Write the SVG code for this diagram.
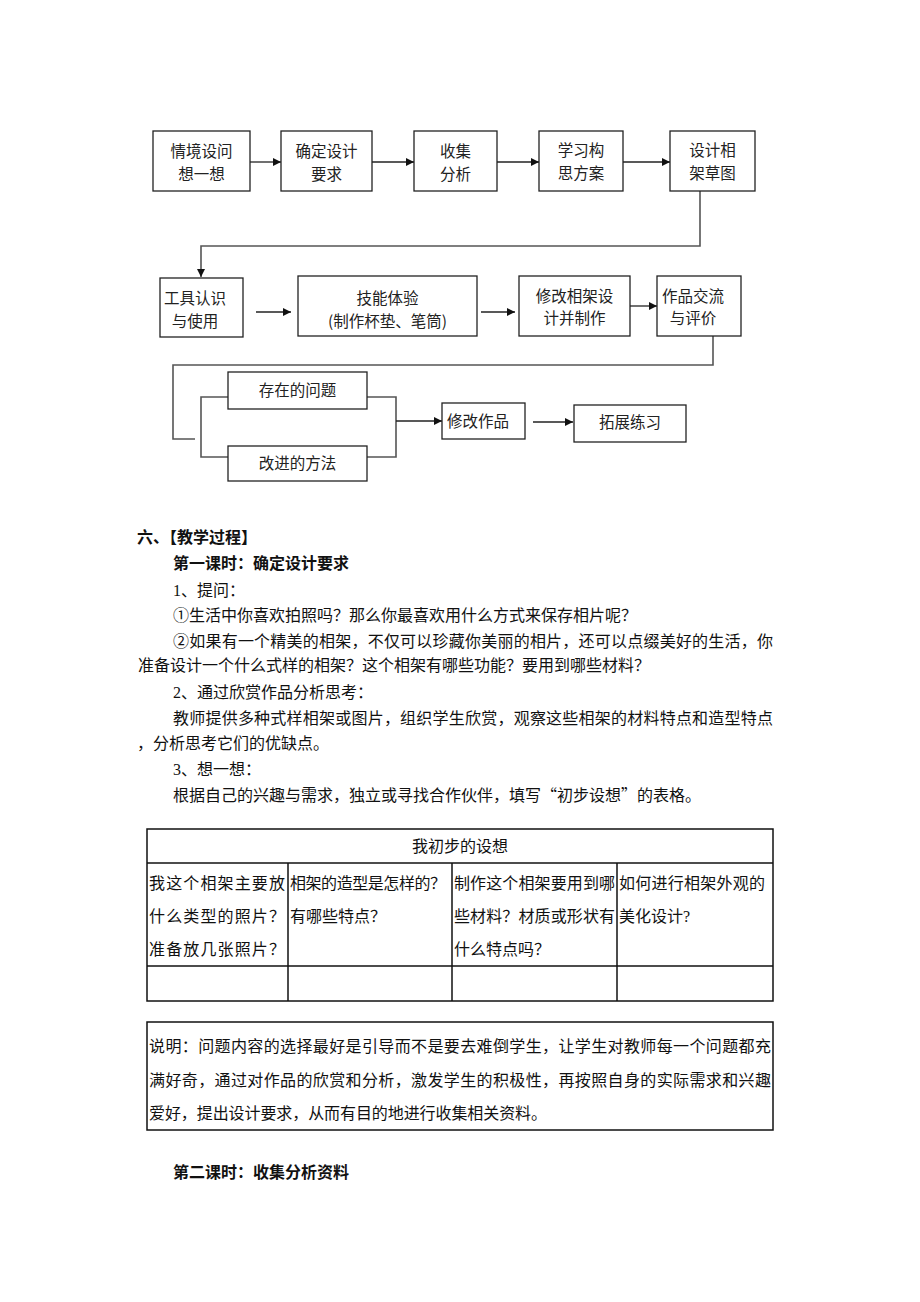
<svg xmlns="http://www.w3.org/2000/svg" width="920" height="1302" viewBox="0 0 920 1302">
<style>
.bg{fill:#ffffff}
.box{fill:#ffffff;stroke:#222;stroke-width:1.3}
.lbl{font-family:"Noto Sans CJK SC","Liberation Sans",sans-serif;font-size:15.5px;fill:#222;text-anchor:middle}
.lbll{font-family:"Noto Sans CJK SC","Liberation Sans",sans-serif;font-size:15.5px;fill:#222}
.con{fill:none;stroke:#222;stroke-width:1.3}
.con2{fill:none;stroke:#555;stroke-width:1.6}
.body{font-family:"Liberation Serif","Noto Sans CJK SC",serif;font-size:16px;fill:#111}
.bold{font-family:"Liberation Serif","Noto Sans CJK SC",serif;font-size:16px;font-weight:700;fill:#111}
.cjk{font-family:"Noto Sans CJK SC",sans-serif}
.tbl{fill:none;stroke:#111;stroke-width:1.5}
</style>
<defs>
<marker id="arr" viewBox="0 0 10 10" refX="10" refY="5" markerWidth="9" markerHeight="8" markerUnits="userSpaceOnUse" orient="auto">
<path d="M0,0 L10,5 L0,10 z" fill="#111"/>
</marker>
</defs>
<rect class="bg" x="0" y="0" width="920" height="1302"/>

<g id="connectors">
<path class="con" d="M250,162 H281" marker-end="url(#arr)"/>
<path class="con" d="M372,162 H414" marker-end="url(#arr)"/>
<path class="con" d="M497,162 H539" marker-end="url(#arr)"/>
<path class="con" d="M623,162 H670" marker-end="url(#arr)"/>
<path class="con2" d="M700,191 V246 H201 V277" marker-end="url(#arr)"/>
<path class="con" d="M256,312 H291" marker-end="url(#arr)"/>
<path class="con" d="M481,312 H515" marker-end="url(#arr)"/>
<path class="con" d="M630,306 H657" marker-end="url(#arr)"/>
<path class="con2" d="M713,336 V365 H173 V439 H195"/>
<path class="con2" d="M228,397 H201 V457 H228"/>
<path class="con2" d="M367,397 H396 V457 H367"/>
<path class="con" d="M396,421 H442" marker-end="url(#arr)"/>
<path class="con" d="M533,422 H573" marker-end="url(#arr)"/>
</g>

<g id="n1"><rect class="box" x="153" y="131" width="97" height="60"/>
<text class="lbl" x="201.5" y="157">情境设问</text><text class="lbl" x="201.5" y="180">想一想</text></g>
<g id="n2"><rect class="box" x="281" y="131" width="91" height="60"/>
<text class="lbl" x="326.5" y="157">确定设计</text><text class="lbl" x="326.5" y="180">要求</text></g>
<g id="n3"><rect class="box" x="414" y="131" width="83" height="60"/>
<text class="lbl" x="455.5" y="157">收集</text><text class="lbl" x="455.5" y="180">分析</text></g>
<g id="n4"><rect class="box" x="539" y="131" width="84" height="60"/>
<text class="lbl" x="581" y="156">学习构</text><text class="lbl" x="581" y="179">思方案</text></g>
<g id="n5"><rect class="box" x="670" y="131" width="85" height="60"/>
<text class="lbl" x="712.5" y="156">设计相</text><text class="lbl" x="712.5" y="179">架草图</text></g>

<g id="n6"><rect class="box" x="160" y="278" width="83" height="59"/>
<text class="lbl" x="195" y="304">工具认识</text><text class="lbl" x="195" y="327">与使用</text></g>
<g id="n7"><rect class="box" x="298" y="276" width="179" height="60"/>
<text class="lbl" x="387.5" y="304">技能体验</text><text class="lbl" x="387.5" y="327">(制作杯垫、笔筒)</text></g>
<g id="n8"><rect class="box" x="519" y="276" width="111" height="60"/>
<text class="lbl" x="574.5" y="302">修改相架设</text><text class="lbl" x="574.5" y="324">计并制作</text></g>
<g id="n9"><rect class="box" x="657" y="276" width="84" height="60"/>
<text class="lbl" x="693" y="302">作品交流</text><text class="lbl" x="693" y="324">与评价</text></g>

<g id="n10"><rect class="box" x="228" y="372" width="139" height="37"/>
<text class="lbl" x="297.5" y="396">存在的问题</text></g>
<g id="n11"><rect class="box" x="228" y="446" width="139" height="35"/>
<text class="lbl" x="297.5" y="469">改进的方法</text></g>
<g id="n12"><rect class="box" x="442" y="403" width="83" height="36"/>
<text class="lbll" x="447" y="427">修改作品</text></g>
<g id="n13"><rect class="box" x="574" y="405" width="112" height="37"/>
<text class="lbl" x="630" y="428">拓展练习</text></g>

<g id="text-body">
<text class="bold" x="137" y="543">六、【教学过程】</text>
<text class="bold" x="173" y="569">第一课时：确定设计要求</text>
<text class="body" x="173" y="596">1、提问：</text>
<text class="body" x="173" y="621">①生活中你喜欢拍照吗？那么你最喜欢用什么方式来保存相片呢？</text>
<text class="body" x="173" y="647" textLength="600" lengthAdjust="spacing">②如果有一个精美的相架，不仅可以珍藏你美丽的相片，还可以点缀美好的生活，你</text>
<text class="body" x="138" y="671">准备设计一个什么式样的相架？这个相架有哪些功能？要用到哪些材料？</text>
<text class="body" x="173" y="698">2、通过欣赏作品分析思考：</text>
<text class="body" x="173" y="724" textLength="600" lengthAdjust="spacing">教师提供多种式样相架或图片，组织学生欣赏，观察这些相架的材料特点和造型特点</text>
<text class="body" x="137" y="749">，分析思考它们的优缺点。</text>
<text class="body" x="173" y="775">3、想一想：</text>
<text class="body" x="173" y="801">根据自己的兴趣与需求，独立或寻找合作伙伴，填写<tspan class="cjk">“</tspan>初步设想<tspan class="cjk">”</tspan>的表格。</text>
</g>

<g id="table">
<rect class="tbl" x="147" y="829" width="626" height="172"/>
<line class="tbl" x1="147" y1="863" x2="773" y2="863"/>
<line class="tbl" x1="147" y1="966" x2="773" y2="966"/>
<line class="tbl" x1="288" y1="863" x2="288" y2="1001"/>
<line class="tbl" x1="452" y1="863" x2="452" y2="1001"/>
<line class="tbl" x1="617" y1="863" x2="617" y2="1001"/>
<text class="body" x="460" y="852" text-anchor="middle">我初步的设想</text>
<text class="body" x="149" y="889" textLength="136" lengthAdjust="spacing">我这个相架主要放</text>
<text class="body" x="149" y="922" textLength="136" lengthAdjust="spacing">什么类型的照片？</text>
<text class="body" x="149" y="955" textLength="136" lengthAdjust="spacing">准备放几张照片？</text>
<text class="body" x="290" y="889" textLength="156" lengthAdjust="spacing">相架的造型是怎样的？</text>
<text class="body" x="290" y="922">有哪些特点？</text>
<text class="body" x="454" y="889" textLength="161" lengthAdjust="spacing">制作这个相架要用到哪</text>
<text class="body" x="454" y="922" textLength="161" lengthAdjust="spacing">些材料？材质或形状有</text>
<text class="body" x="454" y="955">什么特点吗？</text>
<text class="body" x="619" y="889" textLength="146" lengthAdjust="spacing">如何进行相架外观的</text>
<text class="body" x="619" y="922">美化设计?</text>
</g>

<g id="note">
<rect class="tbl" x="147" y="1022" width="626" height="108"/>
<text class="body" x="149" y="1052" textLength="622" lengthAdjust="spacing">说明：问题内容的选择最好是引导而不是要去难倒学生，让学生对教师每一个问题都充</text>
<text class="body" x="149" y="1086" textLength="622" lengthAdjust="spacing">满好奇，通过对作品的欣赏和分析，激发学生的积极性，再按照自身的实际需求和兴趣</text>
<text class="body" x="149" y="1119" textLength="398" lengthAdjust="spacing">爱好，提出设计要求，从而有目的地进行收集相关资料。</text>
</g>

<text class="bold" x="173" y="1178">第二课时：收集分析资料</text>
</svg>
